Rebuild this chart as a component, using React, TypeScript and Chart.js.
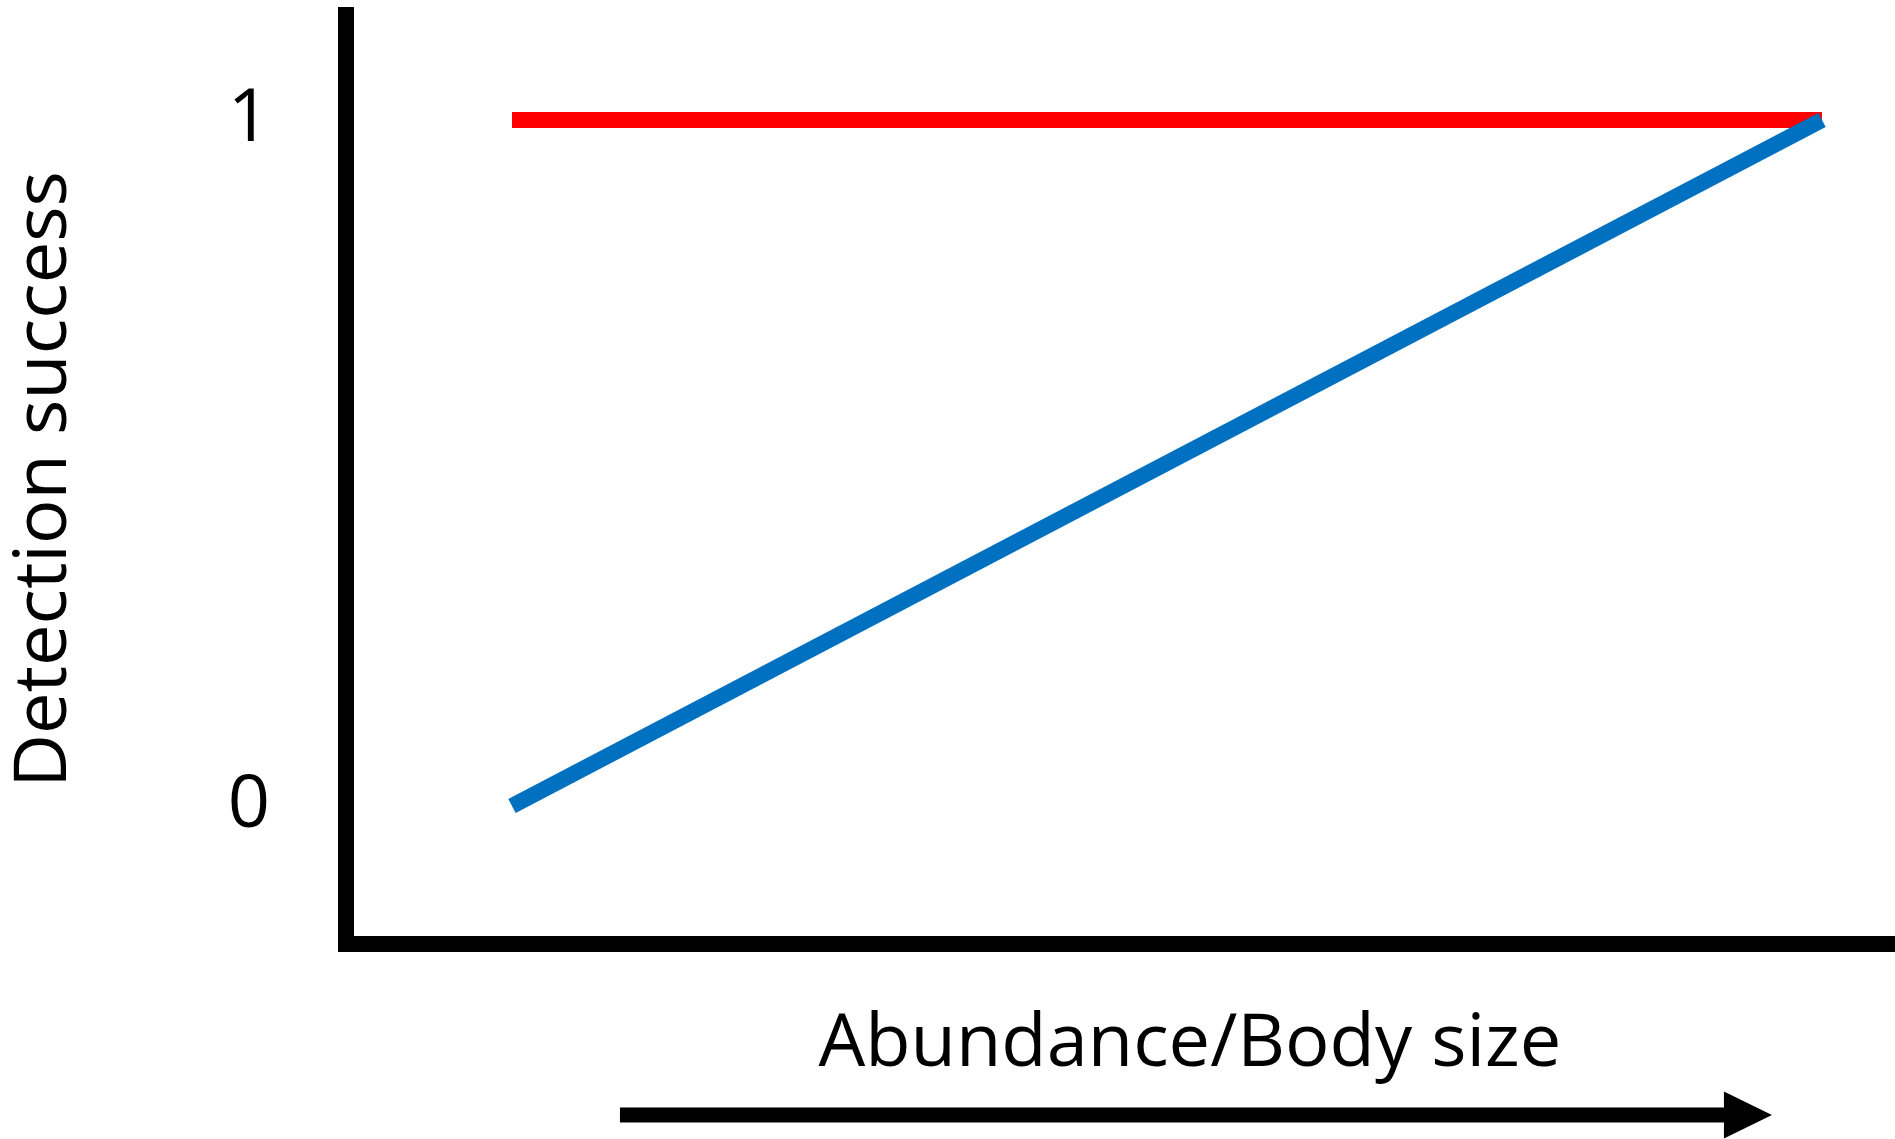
import { useEffect, useRef } from 'react';
import { Chart, registerables } from 'chart.js';

Chart.register(...registerables);

// ---- data ----
const xValues = [0, 1]; // relative abundance / body size
const highDetection = [1, 1]; // red line
const lowDetection = [0, 1]; // blue line
const yTickValues = [0, 1];
const yTickLabels = ['0', '1'];
const xRange = [-0.12672, 1.05573];
const yRange = [-0.20117, 1.15306];
const arrowX = [0.0824, 0.9618];
const arrowY = -0.4504;
const xTitle = 'Abundance/Body size';
const yTitle = 'Detection success';

const FONT = '"Open Sans", "DejaVu Sans", sans-serif';

const arrowPlugin = {
  id: 'axisArrow',
  afterDraw(chart: any) {
    const { ctx, scales } = chart;
    const x = scales.x;
    const y = scales.y;
    const x0 = x.getPixelForValue(arrowX[0]);
    const x1 = x.getPixelForValue(arrowX[1]);
    const ya = y.getPixelForValue(arrowY);
    const headLen = 48;
    const headHalf = 23.5;
    const shaft = 15;
    ctx.save();
    ctx.fillStyle = '#000';
    ctx.fillRect(x0, ya - shaft / 2, x1 - headLen - x0 + 1, shaft);
    ctx.beginPath();
    ctx.moveTo(x1 - headLen, ya - headHalf);
    ctx.lineTo(x1, ya);
    ctx.lineTo(x1 - headLen, ya + headHalf);
    ctx.closePath();
    ctx.fill();
    ctx.font = `74px ${FONT}`;
    ctx.textAlign = 'center';
    ctx.textBaseline = 'alphabetic';
    ctx.fillText(xTitle, (x0 + x1) / 2 - 6, chart.chartArea.bottom + 122);
    ctx.restore();
  },
};

export default function App() {
  const ref = useRef<HTMLCanvasElement | null>(null);

  useEffect(() => {
    if (!ref.current) return;
    const chart = new Chart(ref.current, {
      type: 'line',
      data: {
        datasets: [
          {
            label: 'High',
            data: xValues.map((v, i) => ({ x: v, y: highDetection[i] })),
            borderColor: '#FF0000',
            borderWidth: 16,
            borderCapStyle: 'butt',
            pointRadius: 0,
            tension: 0,
            order: 2,
          },
          {
            label: 'Low',
            data: xValues.map((v, i) => ({ x: v, y: lowDetection[i] })),
            borderColor: '#0070C0',
            borderWidth: 16,
            borderCapStyle: 'butt',
            pointRadius: 0,
            tension: 0,
            order: 1,
          },
        ],
      },
      options: {
        animation: false,
        responsive: false,
        layout: { autoPadding: false, padding: { top: 15, left: 0, right: 0, bottom: 0 } },
        plugins: {
          legend: { display: false },
          tooltip: { enabled: false },
        },
        scales: {
          x: {
            type: 'linear',
            min: xRange[0],
            max: xRange[1],
            grid: { display: false, drawTicks: false },
            border: { display: true, color: '#000', width: 16 },
            ticks: { display: false },
            afterFit: (s: any) => {
              s.height = 195;
              s.paddingLeft = 0;
              s.paddingRight = 0;
            },
          },
          y: {
            type: 'linear',
            min: yRange[0],
            max: yRange[1],
            grid: { display: false, drawTicks: false },
            border: { display: true, color: '#000', width: 16 },
            afterBuildTicks: (s: any) => {
              s.ticks = yTickValues.map((v) => ({ value: v }));
            },
            ticks: {
              color: '#000',
              font: { family: FONT, size: 74 },
              padding: 76,
              crossAlign: 'center',
              callback: (v: any) => {
                const i = yTickValues.indexOf(Number(v));
                return i >= 0 ? yTickLabels[i] : '';
              },
            },
            title: {
              display: true,
              text: yTitle,
              color: '#000',
              font: { family: FONT, size: 74, lineHeight: 1.2 },
              padding: { top: 1, bottom: 0 },
            },
            afterFit: (s: any) => {
              s.width = 346;
              s.paddingTop = 0;
              s.paddingBottom = 0;
            },
          },
        },
      },
      plugins: [arrowPlugin],
    } as any);
    return () => chart.destroy();
  }, []);

  return (
    <div style={{ position: 'absolute', left: 0, top: 0, width: 1895, height: 1139, background: '#fff' }}>
      <canvas ref={ref} width={1895} height={1139} style={{ display: 'block' }} />
    </div>
  );
}
